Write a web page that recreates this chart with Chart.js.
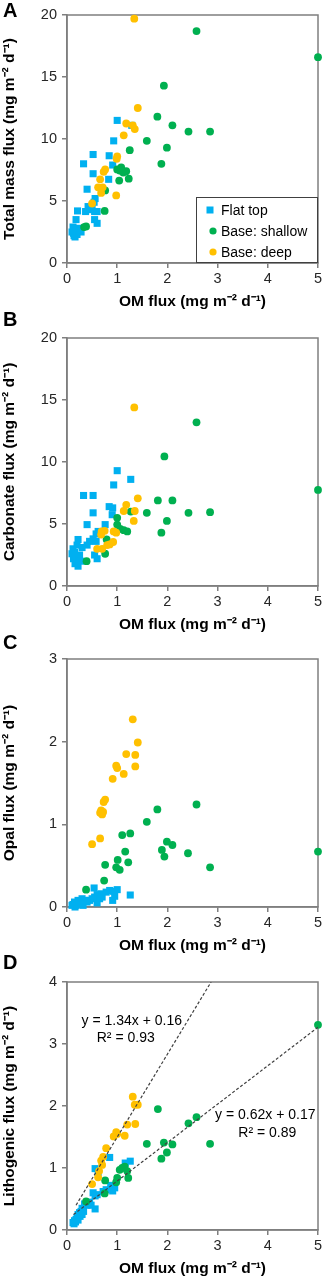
<!DOCTYPE html>
<html>
<head>
<meta charset="utf-8">
<script src="https://cdn.jsdelivr.net/npm/chart.js@4.4.1/dist/chart.umd.min.js"></script>
<style>
  body { margin: 0; background: #fff; }
  #wrap { position: relative; width: 325px; height: 1278px; overflow: hidden; }
  .panel { position: absolute; left: 0; width: 325px; height: 311px; }
  .letter { position: absolute; left: 3px; font: bold 20px "Liberation Sans", Arial, sans-serif; line-height: 20px; color: #000; }
</style>
</head>
<body>
<div id="wrap">
  <div class="panel" style="top:0px"><canvas id="chart-a" width="325" height="311"></canvas></div>
  <div class="panel" style="top:323px"><canvas id="chart-b" width="325" height="311"></canvas></div>
  <div class="panel" style="top:644px"><canvas id="chart-c" width="325" height="311"></canvas></div>
  <div class="panel" style="top:967px"><canvas id="chart-d" width="325" height="311"></canvas></div>
  <div class="letter" style="top:0px">A</div>
  <div class="letter" style="top:309px">B</div>
  <div class="letter" style="top:632px">C</div>
  <div class="letter" style="top:952px">D</div>
</div>
<script>
// Series names and axis ticks
const seriesNames = ['Flat top', 'Base: shallow', 'Base: deep'];
const xTicks = [0, 1, 2, 3, 4, 5];
const massTicks = [0, 5, 10, 15, 20];
const carbTicks = [0, 5, 10, 15, 20];
const opalTicks = [0, 1, 2, 3];
const lithoTicks = [0, 1, 2, 3, 4];

// A: total mass flux vs OM flux, [OM, value]
const massFlat = [[1.00,11.5],[1.29,11.1],[0.93,9.85],[0.52,8.75],[0.84,8.65],[0.33,8.0],[0.91,7.9],[0.52,7.2],[0.83,6.75],[0.40,5.95],
  [0.56,5.2],[0.54,4.9],[0.42,4.55],[0.21,4.2],[0.37,4.15],[0.55,4.15],[0.60,4.15],[0.18,3.5],[0.55,3.5],[0.60,3.2],
  [0.12,2.9],[0.15,2.7],[0.18,2.5],[0.13,2.4],[0.20,2.3],[0.16,2.1],[0.22,2.6],[0.25,2.8],[0.28,2.5],[0.14,2.2],[0.10,2.5],[0.45,4.3],[0.50,4.6]];
const massShallow = [[2.58,18.7],[5.0,16.6],[1.93,14.3],[1.80,11.8],[2.10,11.1],[2.42,10.6],[2.85,10.6],[1.59,9.85],[1.99,9.3],[1.25,9.1],
  [1.88,8.0],[1.00,7.55],[1.05,7.45],[1.12,7.3],[1.18,7.4],[1.08,7.7],[1.23,6.8],[1.04,6.65],[0.76,5.85],[0.75,4.2],[0.38,2.95],[0.34,2.9]];
const massDeep = [[1.34,19.7],[1.41,12.5],[1.18,11.25],[1.31,11.1],[1.35,10.8],[1.13,10.3],[1.00,8.6],[0.99,8.4],[0.76,7.55],[0.73,7.35],
  [0.66,6.75],[0.62,6.1],[0.71,6.1],[0.68,5.65],[0.98,5.45],[0.50,4.8]];

// B: carbonate flux
const carbFlat = [[1.00,9.3],[1.27,8.6],[0.93,8.15],[0.33,7.3],[0.52,7.3],[0.84,6.4],[0.91,6.3],[0.52,5.9],[0.90,5.75],[0.40,4.95],
  [0.76,4.95],[0.58,4.2],[0.62,4.4],[0.22,3.75],[0.45,3.6],[0.52,3.8],[0.58,3.6],[0.20,3.3],[0.40,3.3],[0.12,3.0],
  [0.15,2.7],[0.18,2.4],[0.13,2.2],[0.20,2.0],[0.16,1.8],[0.22,1.6],[0.25,2.5],[0.10,2.6],[0.28,2.0],[0.55,2.5],[0.60,2.2],[0.30,3.1]];
const carbShallow = [[2.58,13.2],[1.94,10.45],[5.0,7.75],[1.81,6.9],[2.10,6.9],[1.27,6.0],[1.59,5.9],[2.42,5.9],[2.85,5.95],[1.00,5.5],
  [1.99,5.25],[1.00,4.95],[1.06,4.6],[1.13,4.5],[1.20,4.4],[1.88,4.3],[0.79,3.75],[0.76,2.6],[0.39,2.0]];
const carbDeep = [[1.34,14.4],[1.41,7.07],[1.18,6.55],[1.13,6.05],[1.35,6.05],[1.33,5.25],[0.69,4.4],[0.75,4.45],[0.93,4.4],[0.68,4.15],
  [0.92,3.55],[0.80,3.3],[0.85,3.35],[0.60,3.0],[0.70,3.0],[0.98,4.3]];

// C: opal flux
const opalFlat = [[1.26,0.145],[1.00,0.21],[0.92,0.19],[0.85,0.2],[0.78,0.18],[0.54,0.23],[0.91,0.08],[0.60,0.15],[0.55,0.12],[0.50,0.1],
  [0.45,0.08],[0.65,0.1],[0.70,0.12],[0.40,0.06],[0.35,0.08],[0.30,0.1],[0.25,0.05],[0.20,0.04],[0.15,0.06],[0.12,0.03],
  [0.18,0.02],[0.22,0.08],[0.28,0.04],[0.10,0.02],[0.16,0.0],[0.32,0.02],[0.60,0.05],[0.68,0.16],[0.95,0.13]];
const opalShallow = [[2.58,1.24],[1.80,1.18],[1.59,1.03],[1.10,0.87],[1.26,0.89],[1.99,0.79],[2.10,0.75],[1.89,0.69],[1.94,0.61],[2.41,0.65],
  [2.85,0.48],[5.0,0.67],[1.16,0.67],[1.01,0.57],[1.22,0.54],[0.76,0.51],[0.98,0.48],[1.05,0.45],[0.74,0.32],[0.38,0.21]];
const opalDeep = [[1.31,2.27],[1.41,1.99],[1.18,1.85],[1.36,1.84],[1.36,1.70],[0.98,1.71],[1.00,1.68],[1.13,1.61],[0.91,1.55],[0.76,1.30],
  [0.73,1.27],[0.66,1.14],[0.70,1.12],[0.72,1.15],[0.68,1.17],[0.50,0.76],[0.66,0.83]];

// D: lithogenic flux
const lithoFlat = [[0.85,1.17],[1.26,1.11],[1.16,1.08],[0.56,0.99],[0.62,0.93],[0.91,0.63],[0.95,0.68],[0.52,0.60],[0.56,0.55],[0.60,0.57],
  [0.56,0.34],[0.45,0.45],[0.40,0.40],[0.35,0.42],[0.30,0.35],[0.28,0.30],[0.25,0.28],[0.22,0.25],[0.20,0.20],[0.18,0.17],
  [0.15,0.15],[0.12,0.12],[0.14,0.10],[0.17,0.13],[0.22,0.16],[0.26,0.22],[0.30,0.25],[0.33,0.30],[0.48,0.40],[0.72,0.62],[0.78,0.65],[0.87,0.72]];
const lithoShallow = [[5.0,3.31],[2.58,1.82],[2.42,1.72],[1.81,1.95],[1.59,1.39],[1.93,1.41],[2.10,1.38],[2.85,1.39],[1.99,1.25],[1.88,1.15],
  [1.05,0.97],[1.10,1.0],[1.15,1.02],[1.22,0.84],[0.98,0.77],[1.00,0.84],[0.76,0.80],[0.75,0.59],[0.38,0.46],[1.20,0.95]];
const lithoDeep = [[1.31,2.15],[1.35,2.02],[1.41,2.02],[1.36,1.71],[1.20,1.70],[0.98,1.58],[0.93,1.51],[1.15,1.52],[1.00,1.55],[0.78,1.32],
  [0.72,1.18],[0.68,1.12],[0.70,1.05],[0.64,0.95],[0.62,0.85],[0.50,0.74]];

// trendline end points (panel D) and equations
const trendDeep = [[0.18,0.40],[2.87,4.0]];
const trendShallow = [[0.13,0.25],[5.0,3.27]];
const eqDeep = ['y = 1.34x + 0.16', 'R² = 0.93'];
const eqShallow = ['y = 0.62x + 0.17', 'R² = 0.89'];

const COLORS = ['#00B0F0', '#00B050', '#FFC000'];
const FONT = '"Liberation Sans", Arial, sans-serif';
const AXIS_GRAY = '#7f7f7f';
const UNITS = ' (mg m\u207B\u00B2 d\u207B\u00B9)';

const toXY = arr => arr.map(p => ({ x: p[0], y: p[1] }));

function seriesSets(flat, shallow, deep) {
  return [
    { label: seriesNames[0], data: toXY(flat), pointStyle: 'rect', pointRadius: 5, order: 3 },
    { label: seriesNames[1], data: toXY(shallow), pointStyle: 'circle', pointRadius: 3.9, order: 2 },
    { label: seriesNames[2], data: toXY(deep), pointStyle: 'circle', pointRadius: 3.9, order: 1 },
  ].map((d, i) => Object.assign(d, {
    backgroundColor: COLORS[i], borderColor: COLORS[i], borderWidth: 0,
    pointHoverRadius: d.pointRadius, clip: false,
  }));
}

// top and right frame lines
const framePlugin = {
  id: 'frame',
  beforeDatasetsDraw(chart) {
    const { ctx, chartArea: a } = chart;
    ctx.save();
    ctx.strokeStyle = AXIS_GRAY;
    ctx.lineWidth = 1.5;
    ctx.strokeRect(a.left, a.top, a.right - a.left, a.bottom - a.top);
    ctx.restore();
  }
};

const legendPlugin = {
  id: 'boxLegend',
  afterDatasetsDraw(chart) {
    const { ctx, chartArea: a } = chart;
    const left = a.right - 122, top = a.bottom - 66;
    ctx.save();
    ctx.fillStyle = '#fff';
    ctx.fillRect(left, top, 122, 66);
    ctx.strokeStyle = '#404040';
    ctx.lineWidth = 1;
    ctx.strokeRect(left + 0.5, top + 0.5, 121, 65);
    ctx.font = '14px ' + FONT;
    ctx.textBaseline = 'middle';
    seriesNames.forEach((name, i) => {
      const y = top + 13 + i * 21;
      const mx = left + (i === 0 ? 14 : 17);
      ctx.fillStyle = COLORS[i];
      if (i === 0) {
        ctx.fillRect(mx - 3.5, y - 3.5, 7, 7);
      } else {
        ctx.beginPath();
        ctx.arc(mx, y, 3.6, 0, Math.PI * 2);
        ctx.fill();
      }
      ctx.fillStyle = '#000';
      ctx.fillText(name, left + 25, y + 1);
    });
    ctx.restore();
  }
};

const eqPlugin = {
  id: 'equations',
  afterDatasetsDraw(chart) {
    const { ctx, scales: { x, y } } = chart;
    ctx.save();
    ctx.font = '14px ' + FONT;
    ctx.fillStyle = '#000';
    ctx.textAlign = 'center';
    ctx.textBaseline = 'middle';
    ctx.fillText(eqDeep[0], x.getPixelForValue(1.29), y.getPixelForValue(3.37));
    ctx.fillText(eqDeep[1], x.getPixelForValue(1.17), y.getPixelForValue(3.09));
    ctx.fillText(eqShallow[0], x.getPixelForValue(3.95), y.getPixelForValue(1.85));
    ctx.fillText(eqShallow[1], x.getPixelForValue(3.99), y.getPixelForValue(1.57));
    ctx.restore();
  }
};

function makeChart(id, datasets, yTicks, yTitle, plugins) {
  const tickFont = { family: FONT, size: 14.5 };
  const titleFont = { family: FONT, size: 15.5, weight: 'bold' };
  const yMax = yTicks[yTicks.length - 1];
  return new Chart(document.getElementById(id), {
    type: 'scatter',
    data: { datasets },
    options: {
      responsive: false,
      animation: false,
      devicePixelRatio: 1,
      layout: { padding: { top: 15, right: 7, left: 0, bottom: 0 } },
      plugins: { legend: { display: false }, tooltip: { enabled: false } },
      scales: {
        x: {
          type: 'linear', min: xTicks[0], max: xTicks[xTicks.length - 1],
          afterBuildTicks: s => { s.ticks = xTicks.map(v => ({ value: v })); },
          ticks: { font: tickFont, color: '#262626', padding: 2, maxRotation: 0 },
          grid: { drawOnChartArea: false, tickLength: 5, color: AXIS_GRAY, lineWidth: 1.5 },
          border: { color: AXIS_GRAY, width: 1.5 },
          title: { display: true, text: 'OM flux' + UNITS, font: titleFont, color: '#000', padding: { top: 1, bottom: 0 } },
          afterFit: s => { s.height = 48; }
        },
        y: {
          type: 'linear', min: yTicks[0], max: yMax,
          afterBuildTicks: s => { s.ticks = yTicks.map(v => ({ value: v })); },
          ticks: { font: tickFont, color: '#262626', padding: 5 },
          grid: { drawOnChartArea: false, tickLength: 5, color: AXIS_GRAY, lineWidth: 1.5 },
          border: { color: AXIS_GRAY, width: 1.5 },
          title: { display: true, text: yTitle + UNITS, font: titleFont, color: '#000', padding: { top: 0, bottom: 0 } },
          afterFit: s => { s.width = 67; }
        }
      }
    },
    plugins: [framePlugin].concat(plugins || [])
  });
}

makeChart('chart-a', seriesSets(massFlat, massShallow, massDeep), massTicks, 'Total mass flux', [legendPlugin]);
makeChart('chart-b', seriesSets(carbFlat, carbShallow, carbDeep), carbTicks, 'Carbonate flux');
makeChart('chart-c', seriesSets(opalFlat, opalShallow, opalDeep), opalTicks, 'Opal flux');

const trendSets = [trendDeep, trendShallow].map(t => ({
  type: 'line', data: toXY(t), borderColor: '#404040', borderWidth: 1.2, borderDash: [3, 2],
  pointRadius: 0, pointHoverRadius: 0, fill: false, order: 0
}));
makeChart('chart-d', seriesSets(lithoFlat, lithoShallow, lithoDeep).concat(trendSets), lithoTicks, 'Lithogenic flux', [eqPlugin]);
</script>
</body>
</html>
